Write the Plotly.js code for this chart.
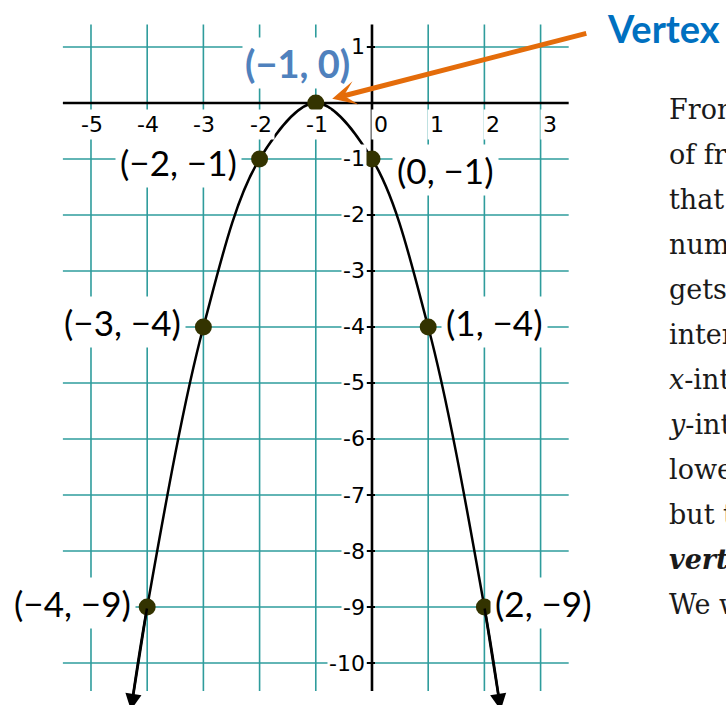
<!DOCTYPE html>
<html>
<head>
<meta charset="utf-8">
<script src="https://cdn.plot.ly/plotly-3.0.1.min.js"></script>
<style>
  html, body { margin: 0; padding: 0; background: #ffffff; overflow: hidden; }
  #chart { width: 726px; height: 705px; }
</style>
</head>
<body>
<div id="chart"></div>
<script>
// Plotted points of y = -(x + 1)^2
const pointX = [-4, -3, -2, -1, 0, 1, 2];
const pointY = [-9, -4, -1, 0, -1, -4, -9];

// The drawn curve: the same points, carried on past both ends to the arrowheads
const curveX = [-4.29, -4, -3, -2, -1, 0, 1, 2, 2.29];
const curveY = [-10.84, -9, -4, -1, 0, -1, -4, -9, -10.84];

// Tick labels along both axes
const xTicks = [-5, -4, -3, -2, -1, 0, 1, 2, 3];
const yTicks = [1, -1, -2, -3, -4, -5, -6, -7, -8, -9, -10];

// Extent of the grid
const gridX = [-5.5, 3.5];
const gridY = [-10.5, 1.4];

// Text running beside the graph (it continues past the right edge of the page)
const paragraphLines = [
  'From the graph, we can see the shape',
  'of from the curve of the parabola,',
  'that the value of y decreases as the',
  'number x moves away from −1 and it',
  'gets very steep. The graph does not',
  'intercept the line y = 1 anywhere.',
  '<i>x</i>-intercept: (−1, 0)',
  '<i>y</i>-intercept: (0, −1)',
  'lowest point? There is none,',
  'but there is a highest point, the',
  '<b><i>vertex</i></b> of the parabola.',
  'We write it as (−1, 0).'
];

// Where each point label sits relative to its point (pixels)
const labelAnchor = ['right', 'right', 'right', 'center', 'left', 'left', 'left'];
const labelShiftX = [-11, -17, -18, -18, 20, 13, 6];
const labelShiftY = [4, 5, -3, 40, -11, 5, 4];

const W = 726, H = 705;
const xRange = [-6.619, 6.299];
const yRange = [-10.75, 1.839];

const gridColor = '#2E9C9C';
const dotColor = '#333300';

function fmt(v) {
  return v < 0 ? '\u2212' + Math.abs(v) : String(v);
}

const shapes = [];
xTicks.forEach(v => {
  if (v !== 0) {
    shapes.push({type: 'line', layer: 'below', xref: 'x', yref: 'y',
      x0: v, x1: v, y0: gridY[0], y1: gridY[1],
      line: {color: gridColor, width: 1.6}});
  }
});
yTicks.forEach(v => {
  shapes.push({type: 'line', layer: 'below', xref: 'x', yref: 'y',
    x0: gridX[0], x1: gridX[1], y0: v, y1: v,
    line: {color: gridColor, width: 1.6}});
});
// axes
shapes.push({type: 'line', layer: 'below', xref: 'x', yref: 'y',
  x0: gridX[0], x1: gridX[1], y0: 0, y1: 0, line: {color: '#000', width: 2.6}});
shapes.push({type: 'line', layer: 'below', xref: 'x', yref: 'y',
  x0: 0, x1: 0, y0: gridY[0], y1: gridY[1], line: {color: '#000', width: 2.6}});
// small ticks on the y axis
yTicks.forEach(v => {
  shapes.push({type: 'line', layer: 'below', xref: 'x', yref: 'y',
    xsizemode: 'pixel', xanchor: 0, x0: -5, x1: 3, y0: v, y1: v,
    line: {color: '#000', width: 2}});
});

const annotations = [];

// blue vertex label and point labels
pointX.forEach((x, i) => {
  const isVertex = labelAnchor[i] === 'center';
  annotations.push({
    x: x, y: pointY[i], xref: 'x', yref: 'y',
    text: '(' + fmt(x) + ', ' + fmt(pointY[i]) + ')',
    showarrow: false,
    xanchor: labelAnchor[i], yanchor: 'middle',
    xshift: labelShiftX[i], yshift: labelShiftY[i],
    bgcolor: '#ffffff', borderpad: isVertex ? 2 : 4,
    font: isVertex
      ? {family: 'Lato', size: 38, color: '#4F81BD', weight: 700}
      : {family: 'Lato', size: 35, color: '#000000'}
  });
});

// x tick labels
xTicks.forEach(v => {
  annotations.push({
    x: v, y: 0, xref: 'x', yref: 'y', text: String(v), showarrow: false,
    xanchor: 'center', yanchor: 'middle', xshift: v < 0 ? 1 : 9, yshift: -22,
    bgcolor: '#ffffff', borderpad: 2,
    font: {family: 'DejaVu Sans', size: 22, color: '#000'}
  });
});
// y tick labels
yTicks.forEach(v => {
  annotations.push({
    x: 0, y: v, xref: 'x', yref: 'y', text: String(v), showarrow: false,
    xanchor: 'right', yanchor: 'middle', xshift: -5, yshift: 0,
    bgcolor: '#ffffff', borderpad: 1,
    font: {family: 'DejaVu Sans', size: 22, color: '#000'}
  });
});

// arrowheads at both ends of the curve
[[0, 1], [curveX.length - 1, curveX.length - 2]].forEach(([tip, tail]) => {
  annotations.push({
    x: curveX[tip], y: curveY[tip], xref: 'x', yref: 'y',
    ax: curveX[tail], ay: curveY[tail], axref: 'x', ayref: 'y',
    text: '', showarrow: true, arrowhead: 2, arrowsize: 1.3, arrowwidth: 2.5,
    arrowcolor: '#000', standoff: 0
  });
});

// orange pointer to the vertex
annotations.push({
  x: pointX[3], y: pointY[3], xref: 'x', yref: 'y',
  ax: 272, ay: -70, text: '', showarrow: true,
  arrowhead: 3, arrowsize: 0.8, arrowwidth: 5, arrowcolor: '#E46C0A', standoff: 17
});
annotations.push({
  x: 663 / W, y: 1 - 28 / H, xref: 'paper', yref: 'paper',
  text: 'Vertex', showarrow: false, xanchor: 'center', yanchor: 'middle',
  font: {family: 'Lato', size: 38, color: '#0070C0', weight: 700}
});

// paragraph lines
paragraphLines.forEach((t, i) => {
  const baseline = 118 + 45 * i;
  annotations.push({
    x: 667 / W, y: 1 - (baseline - 9) / H, xref: 'paper', yref: 'paper',
    text: t, showarrow: false, xanchor: 'left', yanchor: 'middle', align: 'left',
    font: {family: 'DejaVu Serif', size: 27, color: '#1a1a1a'}
  });
});

const traces = [
  {
    x: curveX, y: curveY, type: 'scatter', mode: 'lines',
    line: {color: '#000', width: 2.5, shape: 'spline', smoothing: 1},
    hoverinfo: 'skip'
  },
  {
    x: pointX, y: pointY, type: 'scatter', mode: 'markers',
    marker: {color: dotColor, size: 17},
    hoverinfo: 'skip'
  }
];

const layout = {
  width: W, height: H,
  margin: {l: 0, r: 0, t: 0, b: 0},
  paper_bgcolor: '#ffffff', plot_bgcolor: '#ffffff',
  showlegend: false,
  xaxis: {range: xRange, visible: false, fixedrange: true},
  yaxis: {range: yRange, visible: false, fixedrange: true},
  shapes: shapes,
  annotations: annotations
};

Plotly.newPlot('chart', traces, layout, {staticPlot: true, displayModeBar: false});
</script>
</body>
</html>
